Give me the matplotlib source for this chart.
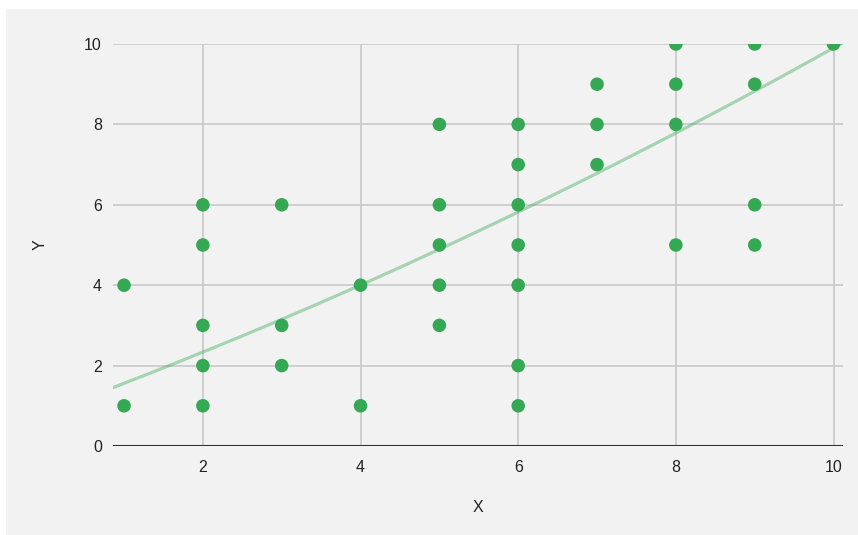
"""
X と Y の散布図 + トレンドライン
"""
import numpy as np
import matplotlib.pyplot as plt
from matplotlib.patches import Rectangle

plt.rcParams['font.family'] = ['Liberation Sans', 'DejaVu Sans']

# 散布図の点
x_vals = [1, 1,
          2, 2, 2, 2, 2,
          3, 3, 3,
          4, 4,
          5, 5, 5, 5, 5,
          6, 6, 6, 6, 6, 6, 6,
          7, 7, 7,
          8, 8, 8, 8,
          9, 9, 9, 9,
          10]
y_vals = [4, 1,
          6, 5, 3, 2, 1,
          6, 3, 2,
          4, 1,
          8, 6, 5, 4, 3,
          8, 7, 6, 5, 4, 2, 1,
          9, 8, 7,
          10, 9, 8, 5,
          10, 9, 6, 5,
          10]

# トレンドライン
trend_x = [1, 2, 3, 4, 5, 6, 7, 8, 9, 10]
trend_y = [1.55, 2.36, 3.12, 4.0, 4.93, 5.83, 6.76, 7.78, 8.81, 9.92]

x_ticks = [2, 4, 6, 8, 10]
y_ticks = [0, 2, 4, 6, 8, 10]

W, H = 858, 535
fig = plt.figure(figsize=(W / 100, H / 100), dpi=100)
fig.patch.set_facecolor('white')
# 背景の灰色領域
fig.patches.append(Rectangle((6 / W, 0), 1 - 6 / W, (H - 9) / H,
                             transform=fig.transFigure, facecolor='#f2f2f2',
                             edgecolor='none', zorder=-5))

ax = fig.add_axes([113 / W, (H - 446) / H, 730 / W, 402 / H])
ax.set_zorder(2)
ax.set_facecolor('none')
ax.set_xlim(0.86, 10.12)
ax.set_ylim(0, 10)

for s in ax.spines.values():
    s.set_visible(False)

ax.set_xticks(x_ticks)
ax.set_yticks(y_ticks)
ax.grid(True, color='#cccccc', linewidth=1.3, zorder=1)
ax.axhline(0, color='#333333', linewidth=1.5, zorder=2)
ax.tick_params(length=0, labelsize=11.5, labelcolor='#222222')
ax.tick_params(axis='x', pad=10)
ax.tick_params(axis='y', pad=8)

# トレンドライン: 読み取り値を2次式でなめらかにつなぐ
coef = np.polyfit(trend_x, trend_y, 2)
xx = np.linspace(0.86, 10.12, 200)
ax.plot(xx, np.polyval(coef, xx), color='#34a853', alpha=0.4,
        linewidth=2.3, zorder=3)

# 上端の点はグラフ領域で切れる
ax.scatter(x_vals, y_vals, s=95, color='#34a853', edgecolors='none',
           zorder=4, clip_on=True)

ax.set_xlabel('X', fontsize=11.5, color='#222222', labelpad=18)
ax.set_ylabel('Y', fontsize=11.5, color='#222222', labelpad=26)

fig.savefig('out.png', dpi=100, facecolor='white')
